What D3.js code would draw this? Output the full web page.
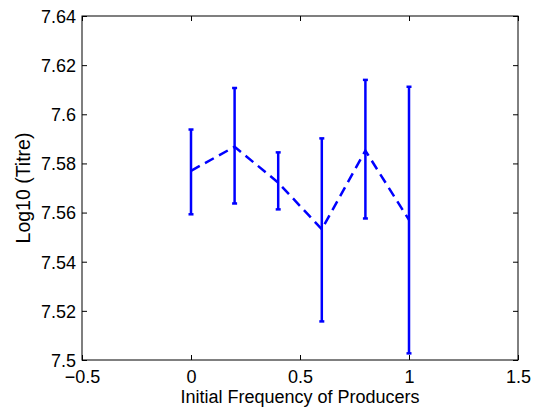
<!DOCTYPE html>
<html>
<head>
<meta charset="utf-8">
<script src="https://cdn.jsdelivr.net/npm/d3@7"></script>
<style>
  body { margin: 0; background: #fff; }
  text { font-family: 'Liberation Sans', Arial, sans-serif; fill: #000; }
</style>
</head>
<body>
<div id="chart"></div>
<script>
// initial frequency of producers and log10 titre (mean, upper, lower)
var freq  = [0, 0.2, 0.4, 0.6, 0.8, 1.0];
var means = [7.5770, 7.5868, 7.5722, 7.5532, 7.5852, 7.5570];
var upper = [7.5938, 7.6107, 7.5845, 7.5902, 7.6140, 7.6112];
var lower = [7.5593, 7.5637, 7.5613, 7.5157, 7.5576, 7.5027];

var xTicks = [-0.5, 0, 0.5, 1, 1.5];
var yTicks = [7.5, 7.52, 7.54, 7.56, 7.58, 7.6, 7.62, 7.64];

var W = 533, H = 408;
var margins = {left: 82, right: 15, top: 16, bottom: 48},
  w = W - margins.left - margins.right,
  h = H - margins.top - margins.bottom;
var fs = 18;

var svg = d3.select('#chart').append('svg')
  .attr('width', W).attr('height', H);

var g = svg.append('g')
  .attr('transform', 'translate(' + margins.left + ',' + margins.top + ')');

var xScale = d3.scaleLinear().domain([-0.5, 1.5]).range([0, w]);
var yScale = d3.scaleLinear().domain([7.5, 7.64]).range([h, 0]);

var fmtY = function(d) { return String(+d.toFixed(2)); };
var fmtX = function(d) { return d < 0 ? '\u2212' + Math.abs(d) : String(d); };

// ticks inside on all four sides, MATLAB style
function ticks(sel, axis) {
  sel.call(axis);
  sel.select('.domain').remove();
  sel.selectAll('line').attr('stroke', '#000').attr('stroke-width', 1);
}

var xb = g.append('g').attr('transform', 'translate(0,' + h + ')');
ticks(xb, d3.axisBottom(xScale).tickValues(xTicks).tickSize(-5).tickFormat(fmtX));
xb.selectAll('text').attr('font-size', fs).attr('y', 23).attr('dy', 0);

var xt = g.append('g');
ticks(xt, d3.axisTop(xScale).tickValues(xTicks).tickSize(-5).tickFormat(''));

var yl = g.append('g');
ticks(yl, d3.axisLeft(yScale).tickValues(yTicks).tickSize(-5).tickFormat(fmtY));
yl.selectAll('text').attr('font-size', fs).attr('x', -6).attr('dy', '0.35em');

var yr = g.append('g').attr('transform', 'translate(' + w + ',0)');
ticks(yr, d3.axisRight(yScale).tickValues(yTicks).tickSize(-5).tickFormat(''));

// box
g.append('rect')
  .attr('x', 0).attr('y', 0).attr('width', w).attr('height', h)
  .attr('fill', 'none').attr('stroke', '#000').attr('stroke-width', 1);

var data = freq.map(function(f, i) {
  return {x: f, m: means[i], hi: upper[i], lo: lower[i]};
});

var blue = '#0000ff';

// dashed mean line
g.append('path')
  .datum(data)
  .attr('fill', 'none')
  .attr('stroke', blue)
  .attr('stroke-width', 2.5)
  .attr('stroke-dasharray', '10,6')
  .attr('d', d3.line()
    .x(function(d) { return xScale(d.x); })
    .y(function(d) { return yScale(d.m); }));

// error bars
var eb = g.selectAll('.eb').data(data).enter().append('g').attr('class', 'eb');
eb.append('line')
  .attr('x1', function(d) { return xScale(d.x); })
  .attr('x2', function(d) { return xScale(d.x); })
  .attr('y1', function(d) { return yScale(d.hi); })
  .attr('y2', function(d) { return yScale(d.lo); })
  .attr('stroke', blue).attr('stroke-width', 2.5);
['hi', 'lo'].forEach(function(k) {
  eb.append('line')
    .attr('x1', function(d) { return xScale(d.x) - 2.5; })
    .attr('x2', function(d) { return xScale(d.x) + 2.5; })
    .attr('y1', function(d) { return yScale(d[k]); })
    .attr('y2', function(d) { return yScale(d[k]); })
    .attr('stroke', blue).attr('stroke-width', 2.5);
});

// axis labels
svg.append('text')
  .attr('x', margins.left + w / 2).attr('y', 403)
  .attr('text-anchor', 'middle').attr('font-size', fs)
  .text('Initial Frequency of Producers');

svg.append('text')
  .attr('transform', 'translate(30,' + (margins.top + h / 2) + ') rotate(-90)')
  .attr('text-anchor', 'middle').attr('font-size', 19.5)
  .text('Log10 (Titre)');
</script>
</body>
</html>
